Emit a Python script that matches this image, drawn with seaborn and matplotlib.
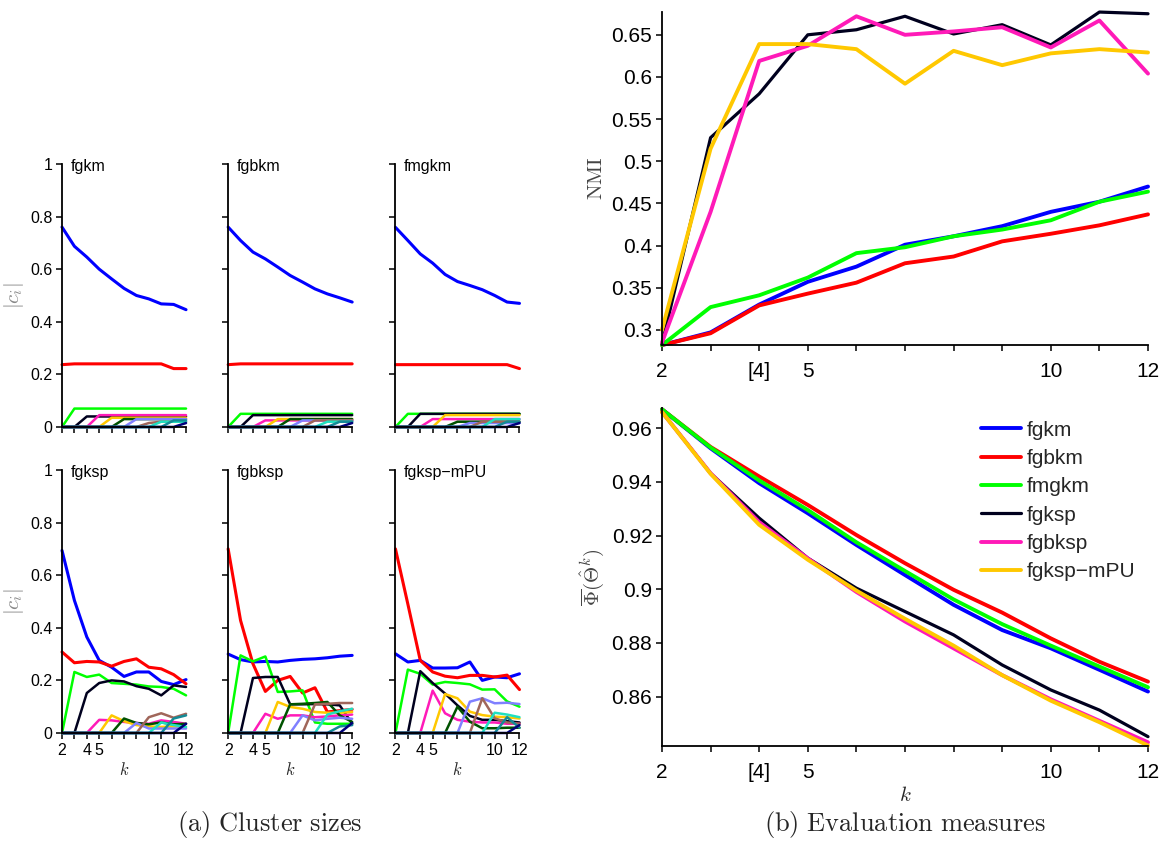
import numpy as np
import pandas as pd
import matplotlib
matplotlib.use("Agg")
import matplotlib.pyplot as plt
import seaborn as sns

sns.set_theme(style="ticks")
plt.rcParams["font.family"] = ["Liberation Sans", "DejaVu Sans"]
plt.rcParams["mathtext.fontset"] = "cm"

k_values = [2, 3, 4, 5, 6, 7, 8, 9, 10, 11, 12]
method_names = ["fgkm", "fgbkm", "fmgkm", "fgksp", "fgbksp", "fgksp\u2212mPU"]
method_colors = ["#0000ff", "#ff0000", "#00ff00", "#00001e", "#ff1ab8", "#ffc800"]
cluster_colors = ["#0000ff", "#ff0000", "#00ff00", "#00001e", "#ff1ab8", "#ffc800",
                  "#005200", "#8080ff", "#a0665a", "#20e0c0", "#148a96", "#00007a"]

# cluster sizes |c_i| per k, one list per cluster (0 where the cluster does not exist yet)
sizes_fgkm = [
    [0.76, 0.687, 0.646, 0.60, 0.563, 0.527, 0.50, 0.487, 0.468, 0.466, 0.446],
    [0.237, 0.24, 0.24, 0.24, 0.24, 0.24, 0.24, 0.24, 0.24, 0.222, 0.222],
    [0, 0.07, 0.07, 0.07, 0.07, 0.07, 0.07, 0.07, 0.07, 0.07, 0.07],
    [0, 0, 0.04, 0.04, 0.04, 0.04, 0.04, 0.04, 0.04, 0.04, 0.04],
    [0, 0, 0, 0.045, 0.045, 0.045, 0.045, 0.045, 0.045, 0.045, 0.045],
    [0, 0, 0, 0, 0.035, 0.035, 0.035, 0.035, 0.035, 0.035, 0.035],
    [0, 0, 0, 0, 0, 0.03, 0.03, 0.03, 0.03, 0.03, 0.03],
    [0, 0, 0, 0, 0, 0, 0.03, 0.03, 0.03, 0.03, 0.03],
    [0, 0, 0, 0, 0, 0, 0, 0.015, 0.02, 0.02, 0.02],
    [0, 0, 0, 0, 0, 0, 0, 0, 0.02, 0.02, 0.02],
    [0, 0, 0, 0, 0, 0, 0, 0, 0, 0.025, 0.025],
    [0, 0, 0, 0, 0, 0, 0, 0, 0, 0, 0.015],
]
sizes_fgbkm = [
    [0.76, 0.709, 0.665, 0.639, 0.608, 0.576, 0.551, 0.525, 0.506, 0.491, 0.475],
    [0.237, 0.24, 0.24, 0.24, 0.24, 0.24, 0.24, 0.24, 0.24, 0.24, 0.24],
    [0, 0.05, 0.05, 0.05, 0.05, 0.05, 0.05, 0.05, 0.05, 0.05, 0.05],
    [0, 0, 0.045, 0.045, 0.045, 0.045, 0.045, 0.045, 0.045, 0.045, 0.045],
    [0, 0, 0, 0.025, 0.025, 0.025, 0.025, 0.025, 0.025, 0.025, 0.025],
    [0, 0, 0, 0, 0.03, 0.03, 0.03, 0.03, 0.03, 0.03, 0.03],
    [0, 0, 0, 0, 0, 0.03, 0.03, 0.03, 0.03, 0.03, 0.03],
    [0, 0, 0, 0, 0, 0, 0.025, 0.025, 0.025, 0.025, 0.025],
    [0, 0, 0, 0, 0, 0, 0, 0.025, 0.025, 0.025, 0.025],
    [0, 0, 0, 0, 0, 0, 0, 0, 0.02, 0.02, 0.02],
    [0, 0, 0, 0, 0, 0, 0, 0, 0, 0.02, 0.02],
    [0, 0, 0, 0, 0, 0, 0, 0, 0, 0, 0.015],
]
sizes_fmgkm = [
    [0.759, 0.709, 0.658, 0.623, 0.58, 0.553, 0.538, 0.522, 0.50, 0.475, 0.47],
    [0.237, 0.237, 0.237, 0.237, 0.237, 0.237, 0.237, 0.237, 0.237, 0.237, 0.222],
    [0, 0.05, 0.05, 0.05, 0.05, 0.05, 0.05, 0.05, 0.05, 0.05, 0.05],
    [0, 0, 0.05, 0.05, 0.05, 0.05, 0.05, 0.05, 0.05, 0.05, 0.05],
    [0, 0, 0, 0.03, 0.03, 0.03, 0.03, 0.03, 0.03, 0.03, 0.03],
    [0, 0, 0, 0, 0.045, 0.045, 0.045, 0.045, 0.045, 0.045, 0.045],
    [0, 0, 0, 0, 0, 0.02, 0.02, 0.02, 0.02, 0.02, 0.02],
    [0, 0, 0, 0, 0, 0, 0.015, 0.015, 0.015, 0.015, 0.015],
    [0, 0, 0, 0, 0, 0, 0, 0.02, 0.02, 0.02, 0.02],
    [0, 0, 0, 0, 0, 0, 0, 0, 0.03, 0.03, 0.03],
    [0, 0, 0, 0, 0, 0, 0, 0, 0, 0.02, 0.02],
    [0, 0, 0, 0, 0, 0, 0, 0, 0, 0, 0.015],
]
sizes_fgksp = [
    [0.694, 0.504, 0.365, 0.276, 0.25, 0.215, 0.232, 0.232, 0.196, 0.184, 0.203],
    [0.308, 0.267, 0.272, 0.27, 0.254, 0.272, 0.282, 0.25, 0.244, 0.222, 0.187],
    [0, 0.232, 0.213, 0.222, 0.19, 0.187, 0.184, 0.177, 0.175, 0.168, 0.143],
    [0, 0, 0.152, 0.19, 0.2, 0.196, 0.178, 0.168, 0.143, 0.181, 0.175],
    [0, 0, 0, 0.05, 0.048, 0.042, 0.038, 0.035, 0.048, 0.042, 0.035],
    [0, 0, 0, 0, 0.067, 0.045, 0.03, 0.025, 0.023, 0.025, 0.023],
    [0, 0, 0, 0, 0, 0.055, 0.038, 0.033, 0.04, 0.033, 0.035],
    [0, 0, 0, 0, 0, 0, 0.038, 0.017, 0.017, 0.017, 0.017],
    [0, 0, 0, 0, 0, 0, 0, 0.06, 0.075, 0.058, 0.073],
    [0, 0, 0, 0, 0, 0, 0, 0, 0.04, 0.03, 0.023],
    [0, 0, 0, 0, 0, 0, 0, 0, 0, 0.055, 0.067],
    [0, 0, 0, 0, 0, 0, 0, 0, 0, 0, 0.035],
]
sizes_fgbksp = [
    [0.30, 0.279, 0.27, 0.272, 0.27, 0.276, 0.28, 0.282, 0.286, 0.292, 0.295],
    [0.70, 0.428, 0.263, 0.158, 0.20, 0.215, 0.152, 0.172, 0.08, 0.085, 0.09],
    [0, 0.295, 0.272, 0.291, 0.156, 0.158, 0.162, 0.04, 0.035, 0.035, 0.035],
    [0, 0, 0.209, 0.213, 0.213, 0.109, 0.109, 0.11, 0.109, 0.105, 0.035],
    [0, 0, 0, 0.073, 0.054, 0.067, 0.067, 0.06, 0.063, 0.067, 0.07],
    [0, 0, 0, 0, 0.118, 0.099, 0.092, 0.08, 0.077, 0.077, 0.08],
    [0, 0, 0, 0, 0, 0.109, 0.111, 0.114, 0.118, 0.067, 0.042],
    [0, 0, 0, 0, 0, 0, 0.067, 0.048, 0.054, 0.058, 0.054],
    [0, 0, 0, 0, 0, 0, 0, 0.109, 0.111, 0.114, 0.114],
    [0, 0, 0, 0, 0, 0, 0, 0, 0.07, 0.083, 0.092],
    [0, 0, 0, 0, 0, 0, 0, 0, 0, 0.025, 0.03],
    [0, 0, 0, 0, 0, 0, 0, 0, 0, 0, 0.038],
]
sizes_mpu = [
    [0.301, 0.27, 0.276, 0.247, 0.247, 0.248, 0.27, 0.20, 0.213, 0.21, 0.225],
    [0.70, 0.49, 0.276, 0.232, 0.216, 0.21, 0.219, 0.219, 0.213, 0.22, 0.165],
    [0, 0.241, 0.225, 0.184, 0.194, 0.19, 0.185, 0.165, 0.166, 0.12, 0.10],
    [0, 0, 0.235, 0.19, 0.15, 0.105, 0.065, 0.05, 0.05, 0.045, 0.04],
    [0, 0, 0, 0.161, 0.075, 0.05, 0.043, 0.04, 0.04, 0.035, 0.035],
    [0, 0, 0, 0, 0.148, 0.132, 0.081, 0.068, 0.062, 0.06, 0.055],
    [0, 0, 0, 0, 0, 0.10, 0.043, 0.018, 0.018, 0.02, 0.02],
    [0, 0, 0, 0, 0, 0, 0.119, 0.132, 0.113, 0.115, 0.11],
    [0, 0, 0, 0, 0, 0, 0, 0.132, 0.056, 0.04, 0.035],
    [0, 0, 0, 0, 0, 0, 0, 0, 0.077, 0.07, 0.06],
    [0, 0, 0, 0, 0, 0, 0, 0, 0, 0.06, 0.02],
    [0, 0, 0, 0, 0, 0, 0, 0, 0, 0, 0.03],
]

# evaluation measures
nmi_fgkm = [0.282, 0.297, 0.330, 0.357, 0.375, 0.401, 0.411, 0.423, 0.440, 0.452, 0.470]
nmi_fgbkm = [0.282, 0.296, 0.329, 0.343, 0.356, 0.379, 0.387, 0.405, 0.414, 0.424, 0.437]
nmi_fmgkm = [0.282, 0.327, 0.341, 0.362, 0.391, 0.398, 0.411, 0.419, 0.430, 0.452, 0.464]
nmi_fgksp = [0.283, 0.528, 0.580, 0.650, 0.656, 0.672, 0.651, 0.662, 0.638, 0.677, 0.675]
nmi_fgbksp = [0.285, 0.440, 0.619, 0.637, 0.672, 0.650, 0.654, 0.659, 0.635, 0.667, 0.604]
nmi_mpu = [0.300, 0.515, 0.639, 0.639, 0.633, 0.592, 0.631, 0.614, 0.628, 0.633, 0.629]

phi_fgkm = [0.967, 0.9525, 0.9395, 0.9283, 0.9165, 0.9053, 0.8942, 0.8848, 0.878, 0.870, 0.8619]
phi_fgbkm = [0.967, 0.953, 0.942, 0.9314, 0.9202, 0.9097, 0.8998, 0.8913, 0.8817, 0.873, 0.8656]
phi_fmgkm = [0.967, 0.9528, 0.9405, 0.9295, 0.9175, 0.9068, 0.8962, 0.887, 0.879, 0.8712, 0.8635]
phi_fgksp = [0.966, 0.9432, 0.9265, 0.9116, 0.9004, 0.8917, 0.883, 0.8718, 0.8625, 0.855, 0.8451]
phi_fgbksp = [0.966, 0.9432, 0.925, 0.9115, 0.899, 0.888, 0.878, 0.868, 0.859, 0.851, 0.843]
phi_mpu = [0.966, 0.943, 0.924, 0.911, 0.8995, 0.889, 0.879, 0.868, 0.8585, 0.8505, 0.8418]

small_ticklabels = ["2", "", "4", "5", "", "", "", "", "10", "", "12"]
big_ticklabels = ["2", "", "[4]", "5", "", "", "", "", "10", "", "12"]


def style_axes(ax, labelsize):
    ax.spines[["top", "right"]].set_visible(False)
    for s in ["left", "bottom"]:
        ax.spines[s].set_color("black")
        ax.spines[s].set_linewidth(1.3)
    ax.tick_params(direction="out", length=4, width=1.1, colors="black",
                   labelsize=labelsize, pad=3)
    ax.set_xlim(2, 12)
    ax.set_xticks(k_values)


fig = plt.figure(figsize=(11.7, 8.43), dpi=100)

panels = [sizes_fgkm, sizes_fgbkm, sizes_fmgkm, sizes_fgksp, sizes_fgbksp, sizes_mpu]
lefts = [0.053, 0.195, 0.338]
bottoms = [0.4935, 0.1305]
for i, (sizes, name) in enumerate(zip(panels, method_names)):
    row, col = divmod(i, 3)
    ax = fig.add_axes([lefts[col], bottoms[row], 0.106, 0.312])
    for vals, c in zip(sizes, cluster_colors):
        lw = 2.2 if c in ("#0000ff", "#ff0000") else 1.8
        sns.lineplot(x=k_values, y=vals, color=c, lw=lw, ax=ax, clip_on=False)
    style_axes(ax, 11.5)
    ax.set_ylim(0, 1)
    ax.set_yticks([0, 0.2, 0.4, 0.6, 0.8, 1])
    if col == 0:
        ax.set_yticklabels(["0", "0.2", "0.4", "0.6", "0.8", "1"])
        ax.set_ylabel(r"$|c_i|$", fontsize=15, color="#888888")
        ax.yaxis.set_label_coords(-0.29, 0.5)
    else:
        ax.set_yticklabels([])
        ax.set_ylabel("")
    if row == 1:
        ax.set_xticklabels(small_ticklabels)
        ax.set_xlabel(r"$k$", fontsize=12)
        ax.xaxis.set_label_coords(0.5, -0.105)
    else:
        ax.set_xticklabels([])
        ax.set_xlabel("")
    ax.text(0.07, 0.99, name, transform=ax.transAxes, ha="left", va="center",
            fontsize=11.5, color="black")

# NMI
ax1 = fig.add_axes([0.5658, 0.5907, 0.4154, 0.395])
nmi_series = [nmi_fgkm, nmi_fgbkm, nmi_fmgkm, nmi_fgksp, nmi_fgbksp, nmi_mpu]
for vals, c, name in zip(nmi_series, method_colors, method_names):
    lw = 2.3 if c == "#00001e" else 2.8
    sns.lineplot(x=k_values, y=vals, color=c, lw=lw, ax=ax1, clip_on=False)
style_axes(ax1, 15)
ax1.set_ylim(0.282, 0.677)
nmi_ticks = [0.3, 0.35, 0.4, 0.45, 0.5, 0.55, 0.6, 0.65]
ax1.set_yticks(nmi_ticks)
ax1.set_yticklabels([f"{v:g}" for v in nmi_ticks])
ax1.set_xticklabels(big_ticklabels)
ax1.tick_params(axis="x", pad=8)
ax1.set_xlabel("")
ax1.set_ylabel(r"$\mathrm{NMI}$", fontsize=15, color="#444444")
ax1.yaxis.set_label_coords(-0.115, 0.5)

# Phi
ax2 = fig.add_axes([0.5658, 0.115, 0.4154, 0.401])
phi_series = [phi_fgkm, phi_fgbkm, phi_fmgkm, phi_fgksp, phi_fgbksp, phi_mpu]
for vals, c, name in zip(phi_series, method_colors, method_names):
    lw = 2.3 if c == "#00001e" else 2.8
    sns.lineplot(x=k_values, y=vals, color=c, lw=lw, ax=ax2, clip_on=False, label=name)
style_axes(ax2, 15)
ax2.set_ylim(0.8416, 0.9675)
phi_ticks = [0.86, 0.88, 0.9, 0.92, 0.94, 0.96]
ax2.set_yticks(phi_ticks)
ax2.set_yticklabels([f"{v:g}" for v in phi_ticks])
ax2.set_xticklabels(big_ticklabels)
ax2.tick_params(axis="x", pad=8)
ax2.set_xlabel(r"$k$", fontsize=15)
ax2.xaxis.set_label_coords(0.5, -0.118)
ax2.set_ylabel(r"$\overline{\Phi}(\hat{\Theta}^k)$", fontsize=15, color="#444444")
ax2.yaxis.set_label_coords(-0.115, 0.5)
ax2.legend(loc="upper right", bbox_to_anchor=(1.0, 1.0), frameon=False, fontsize=15,
           handlelength=1.9, handletextpad=0.3, labelspacing=0.45, borderaxespad=0.2)

fig.text(270 / 1170, 1 - 824 / 843, r"$\mathrm{(a)\ Cluster\ sizes}$",
         ha="center", va="center", fontsize=19)
fig.text(905 / 1170, 1 - 824 / 843, r"$\mathrm{(b)\ Evaluation\ measures}$",
         ha="center", va="center", fontsize=19)

fig.savefig("out.png", dpi=100)
